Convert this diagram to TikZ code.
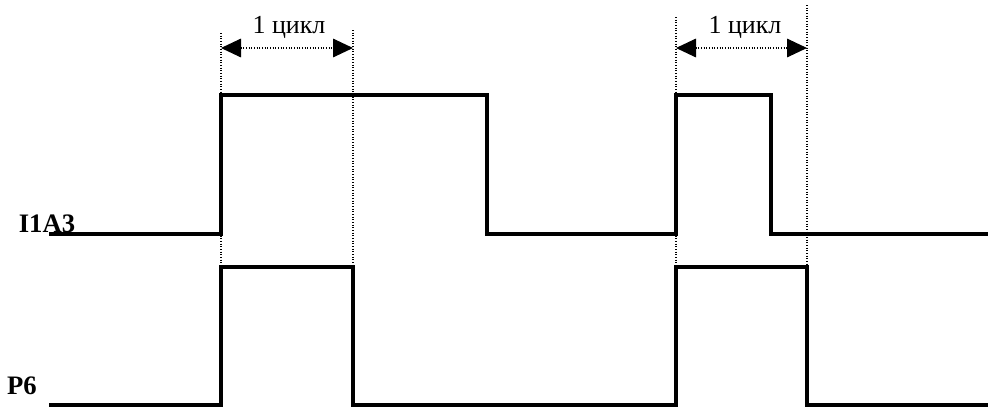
\documentclass[tikz,border=0pt]{standalone}
\usepackage{fontspec}
\setmainfont{Liberation Serif}
\usetikzlibrary{arrows.meta}
\begin{document}
\begin{tikzpicture}[x=0.75pt,y=-0.75pt,
  sig/.style={line width=2.3pt,line join=miter,line cap=rect},
  guide/.style={line width=0.8pt,dash pattern=on 0.8pt off 1.2pt},
  dim/.style={line width=0.8pt,dash pattern=on 0.8pt off 1.2pt,
    {Triangle[length=15pt,width=14pt]}-{Triangle[length=15pt,width=14pt]}},
  lbl/.style={font=\fontsize{20}{22}\selectfont\bfseries,inner sep=0pt},
  cyc/.style={font=\fontsize{19.5}{22}\selectfont,inner sep=0pt}]
\useasboundingbox (0,0) rectangle (988,407);
% labels
\node[lbl] (la) at (47,224) {I1A3};
\node[lbl] (lp) at (22,386) {P6};
% guides
\coordinate (g1t) at (221,33); \coordinate (g1b) at (221,267);
\coordinate (g2t) at (353,30); \coordinate (g2b) at (353,267);
\coordinate (g3t) at (676,17); \coordinate (g3b) at (676,267);
\coordinate (g4t) at (807,5);  \coordinate (g4b) at (807,267);
\draw[guide] (g1t) -- (g1b);
\draw[guide] (g2t) -- (g2b);
\draw[guide] (g3t) -- (g3b);
\draw[guide] (g4t) -- (g4b);
% dimension arrows
\coordinate (a1l) at (221,48); \coordinate (a1r) at (353,48);
\coordinate (a2l) at (676,48); \coordinate (a2r) at (807,48);
\draw[dim] (a1l) -- (a1r);
\draw[dim] (a2l) -- (a2r);
\node[cyc] (c1) at (289,27) {1 цикл};
\node[cyc] (c2) at (745,27) {1 цикл};
% I1A3 waveform
\draw[sig] (51,234) -- (221,234) -- (221,95) -- (487,95) -- (487,234)
  -- (676,234) -- (676,95) -- (771,95) -- (771,234) -- (988,234);
% P6 waveform
\draw[sig] (51,405) -- (221,405) -- (221,267) -- (353,267) -- (353,405)
  -- (676,405) -- (676,267) -- (807,267) -- (807,405) -- (988,405);
\end{tikzpicture}
\end{document}
